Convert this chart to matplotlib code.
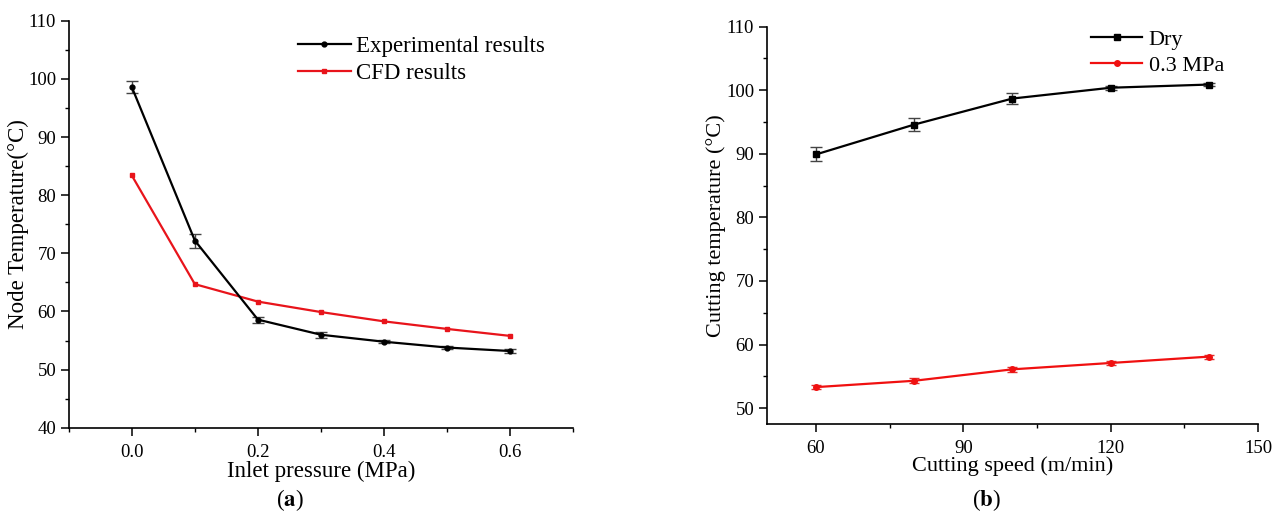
import matplotlib.pyplot as plt
from matplotlib.ticker import MultipleLocator
import numpy as np

plt.rcParams['font.family'] = ['Liberation Serif', 'DejaVu Serif']
plt.rcParams['mathtext.fontset'] = 'stix'

# -------------------------- Data -------------------------- #
pressure = [0.0, 0.1, 0.2, 0.3, 0.4, 0.5, 0.6]
exp_temp = [98.6, 72.2, 58.6, 56.0, 54.8, 53.8, 53.2]
exp_err = [1.0, 1.2, 0.5, 0.5, 0.3, 0.3, 0.3]
cfd_temp = [83.4, 64.7, 61.7, 59.9, 58.3, 57.0, 55.8]

speed = [60, 80, 100, 120, 140]
dry_temp = [89.9, 94.6, 98.7, 100.4, 100.9]
dry_err = [1.1, 1.0, 0.8, 0.3, 0.3]
mpa_temp = [53.3, 54.3, 56.1, 57.1, 58.1]
mpa_err = [0.3, 0.4, 0.4, 0.3, 0.3]

W, H = 1285, 514
fig = plt.figure(figsize=(W / 100, H / 100), dpi=100)

def box(x0, y0, x1, y1):
    return [x0 / W, 1 - y1 / H, (x1 - x0) / W, (y1 - y0) / H]

def style(ax, xsize, ysize, pad):
    for s in ('top', 'right'):
        ax.spines[s].set_visible(False)
    for s in ('left', 'bottom'):
        ax.spines[s].set_linewidth(1.2)
    ax.tick_params(which='major', direction='out', length=5.5, width=1.1,
                   colors='black')
    ax.tick_params(which='minor', direction='out', length=3, width=1.0)
    ax.tick_params(axis='x', which='major', pad=pad, labelsize=xsize)
    ax.tick_params(axis='y', which='major', labelsize=ysize)

# -------------------------- Panel (a) -------------------------- #
L = (68.7, 20.7, 573.3, 427.8)
ax1 = fig.add_axes(box(*L))
aw, ah = L[2] - L[0], L[3] - L[1]
e1 = ax1.errorbar(pressure, exp_temp, yerr=exp_err, color='black', marker='o',
                  markersize=3.5, lw=1.6, ecolor='#444444', elinewidth=1.0,
                  capsize=4.5, capthick=1.0)
c1, = ax1.plot(pressure, cfd_temp, color='#e8141b', marker='s', markersize=3.5,
               lw=1.6)
ax1.set_xlim(-0.1, 0.7)
ax1.set_ylim(40, 110)
ax1.xaxis.set_major_locator(MultipleLocator(0.2))
ax1.xaxis.set_minor_locator(MultipleLocator(0.1))
ax1.yaxis.set_major_locator(MultipleLocator(10))
ax1.yaxis.set_minor_locator(MultipleLocator(5))
ax1.xaxis.set_major_formatter(plt.FuncFormatter(lambda v, p: f'{v:.1f}'))
style(ax1, 13.5, 13.5, 6)
ax1.set_xlabel('Inlet pressure (MPa)', fontsize=16.5)
ax1.xaxis.label.set_va('center')
ax1.xaxis.set_label_coords(0.5, -(471 - L[3]) / ah)
ax1.set_ylabel('Node Temperature(°C)', fontsize=16.5)
ax1.yaxis.set_label_coords(-(L[0] - 28.6) / aw, 0.5)
ax1.legend([e1.lines[0], c1], ['Experimental results', 'CFD results'],
           loc='upper left', bbox_to_anchor=((298 - L[0]) / aw, 1 - (36 - L[1]) / ah),
           frameon=False, fontsize=16.5, handlelength=2.3, handletextpad=0.25,
           labelspacing=0.25, borderaxespad=0, borderpad=0)

# -------------------------- Panel (b) -------------------------- #
R = (766.7, 26.7, 1258.2, 424)
ax2 = fig.add_axes(box(*R))
bw, bh = R[2] - R[0], R[3] - R[1]
e2 = ax2.errorbar(speed, dry_temp, yerr=dry_err, color='black', marker='s',
                  markersize=4, lw=1.6, ecolor='#444444', elinewidth=1.0,
                  capsize=4.5, capthick=1.0)
e3 = ax2.errorbar(speed, mpa_temp, yerr=mpa_err, color='#f01010', marker='o',
                  markersize=4, lw=1.6, ecolor='#e03030', elinewidth=1.0,
                  capsize=3.5, capthick=1.0)
ax2.set_xlim(50, 150)
ax2.set_ylim(47.5, 110)
ax2.set_xticks([60, 90, 120, 150])
ax2.set_xticks([75, 105, 135], minor=True)
ax2.yaxis.set_major_locator(MultipleLocator(10))
ax2.yaxis.set_minor_locator(MultipleLocator(5))
style(ax2, 13.5, 13.5, 6)
ax2.set_xlabel('Cutting speed (m/min)', fontsize=16)
ax2.xaxis.label.set_va('center')
ax2.xaxis.set_label_coords(0.5, -(466 - R[3]) / bh)
ax2.set_ylabel('Cutting temperature (°C)', fontsize=16)
ax2.yaxis.set_label_coords(-(R[0] - 726) / bw, 0.5)
ax2.legend([e2.lines[0], e3.lines[0]], ['Dry', '0.3 MPa'],
           loc='upper left', bbox_to_anchor=((1091 - R[0]) / bw, 1 - (29 - R[1]) / bh),
           frameon=False, fontsize=16, handlelength=2.3, handletextpad=0.3,
           labelspacing=0.25, borderaxespad=0, borderpad=0)

# -------------------------- Captions -------------------------- #
fig.text(290 / W, 1 - 500 / H, r'($\mathbf{a}$)', ha='center', va='center', fontsize=16.5)
fig.text(986 / W, 1 - 500 / H, r'($\mathbf{b}$)', ha='center', va='center', fontsize=16.5)

fig.savefig('out.png', dpi=100)
